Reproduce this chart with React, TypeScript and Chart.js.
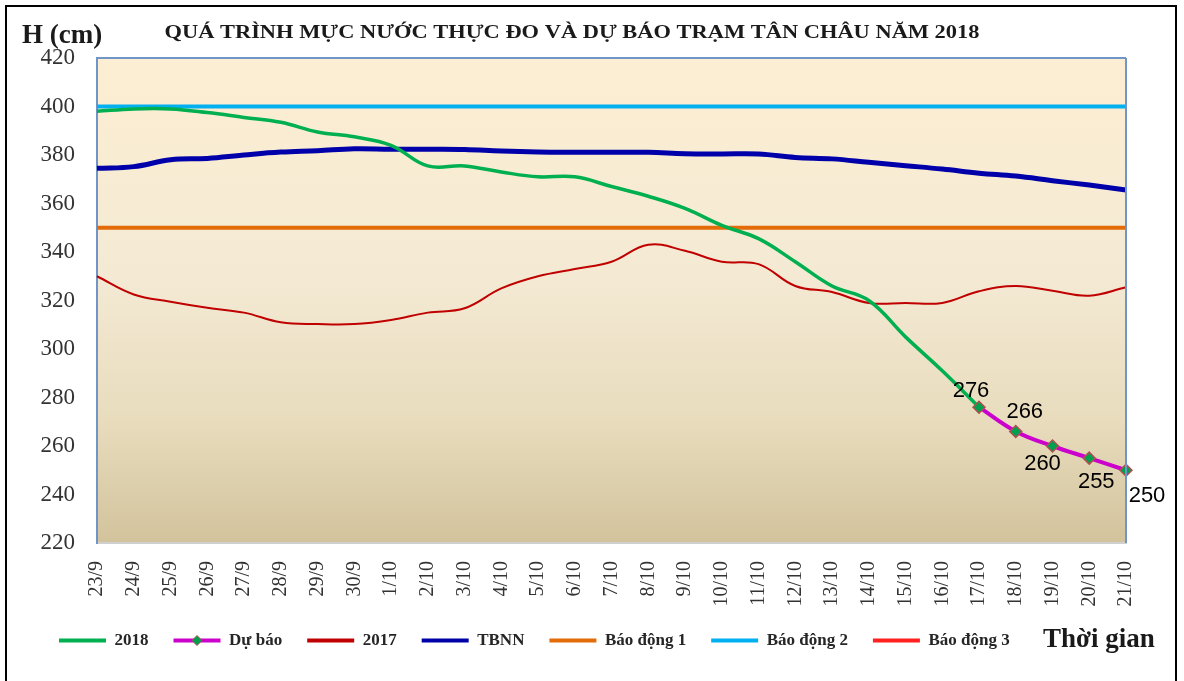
import React, { useEffect, useRef } from "react";
import { Chart, registerables } from "chart.js";

Chart.register(...registerables);

const dates = [
  "23/9", "24/9", "25/9", "26/9", "27/9", "28/9", "29/9", "30/9",
  "1/10", "2/10", "3/10", "4/10", "5/10", "6/10", "7/10", "8/10", "9/10",
  "10/10", "11/10", "12/10", "13/10", "14/10", "15/10", "16/10", "17/10",
  "18/10", "19/10", "20/10", "21/10",
];

const obs2018: (number | null)[] = [
  398, 399, 399, 397.5, 395.5, 393.5, 389.5, 387.5,
  384, 375.5, 375.5, 373, 371, 371, 367, 363, 358,
  351, 345.5, 336, 326, 320, 305, 291, 276,
  null, null, null, null,
];

const forecast: (number | null)[] = [
  null, null, null, null, null, null, null, null,
  null, null, null, null, null, null, null, null, null,
  null, null, null, null, null, null, null, 276,
  266, 260, 255, 250,
];

const obs2017 = [
  330, 322.5, 319.5, 317, 315, 311, 310.3, 310.3,
  312, 315, 316.8, 325, 330, 333, 336, 343, 340.5,
  336, 335, 326, 323.5, 319, 319, 319, 323.8,
  326, 324, 322, 325.5,
];

const tbnn = [
  374.5, 375.2, 378, 378.6, 380, 381.2, 381.8, 382.6,
  382.4, 382.4, 382.3, 381.6, 381.2, 381.1, 381.1, 381.1, 380.5,
  380.4, 380.4, 379, 378.4, 377, 375.6, 374.2, 372.5,
  371.3, 369.4, 367.6, 365.6,
];

const alarm1 = 350;
const alarm2 = 400;
const alarm3 = 450;

const yTicks = [220, 240, 260, 280, 300, 320, 340, 360, 380, 400, 420];

const titleText = "QUÁ TRÌNH MỰC NƯỚC THỰC ĐO VÀ DỰ BÁO TRẠM TÂN CHÂU NĂM 2018";
const yCaption = "H (cm)";
const xCaption = "Thời gian";

const seriesNames = ["2018", "Dự báo", "2017", "TBNN", "Báo động 1", "Báo động 2", "Báo động 3"];
const seriesColors = ["#00B050", "#CC00CC", "#C00000", "#0000AA", "#E36C09", "#00B0F0", "#FF2020"];

const SERIF = "'Liberation Serif', 'Times New Roman', serif";
const SANS = "'Liberation Sans', Arial, sans-serif";

// label offsets relative to the forecast points (style only)
const labelOffsets: [number, number][] = [
  [-8, -16],
  [9, -20],
  [-10, 18],
  [7, 24],
  [21, 26],
];

const framePlugin = {
  id: "frame",
  beforeDraw(chart: any) {
    const { ctx, chartArea } = chart;
    ctx.save();
    ctx.fillStyle = "#ffffff";
    ctx.fillRect(0, 0, chart.width, chart.height);
    const g = ctx.createLinearGradient(0, chartArea.top, 0, chartArea.bottom);
    g.addColorStop(0, "#FCEED2");
    g.addColorStop(0.45, "#F4EAD4");
    g.addColorStop(0.75, "#E8DCBD");
    g.addColorStop(1, "#D2C39C");
    ctx.fillStyle = g;
    ctx.fillRect(chartArea.left, chartArea.top, chartArea.right - chartArea.left, chartArea.bottom - chartArea.top);
    ctx.strokeStyle = "#000000";
    ctx.lineWidth = 2;
    ctx.strokeRect(6, 6, 1170, 720);
    ctx.restore();
  },
  afterDraw(chart: any) {
    const { ctx, chartArea } = chart;
    ctx.save();
    // right and top border of plot
    ctx.strokeStyle = "#7195C8";
    ctx.lineWidth = 2;
    ctx.beginPath();
    ctx.moveTo(chartArea.right, chartArea.top);
    ctx.lineTo(chartArea.right, chartArea.bottom);
    ctx.stroke();
    ctx.beginPath();
    ctx.moveTo(chartArea.left, chartArea.top);
    ctx.lineTo(chartArea.right, chartArea.top);
    ctx.stroke();
    // title (slightly widened like the original)
    ctx.fillStyle = "#1a1a1a";
    ctx.textBaseline = "middle";
    ctx.font = "bold 19px " + SERIF;
    const w = ctx.measureText(titleText).width;
    ctx.save();
    ctx.translate(572, 33);
    ctx.scale(815 / w, 1);
    ctx.textAlign = "center";
    ctx.fillText(titleText, 0, 0);
    ctx.restore();
    // axis captions
    ctx.textAlign = "left";
    ctx.font = "bold 27px " + SERIF;
    ctx.fillText(yCaption, 22, 36);
    ctx.font = "bold 27px " + SERIF;
    ctx.fillText(xCaption, 1043, 640);
    // forecast point labels
    const meta = chart.getDatasetMeta(1);
    ctx.font = "22px " + SANS;
    ctx.fillStyle = "#000000";
    ctx.textAlign = "center";
    let k = 0;
    meta.data.forEach((pt: any, i: number) => {
      const v = chart.data.datasets[1].data[i];
      if (v === null || v === undefined) return;
      const off = labelOffsets[k] || [0, -18];
      ctx.fillText(String(v), pt.x + off[0], pt.y + off[1]);
      k++;
    });
    // diamond on legend swatch of forecast
    const legend = chart.legend;
    if (legend && legend.legendHitBoxes && legend.legendHitBoxes[1]) {
      const hb = legend.legendHitBoxes[1];
      const cx = hb.left + 23.5;
      const cy = hb.top + hb.height / 2;
      ctx.beginPath();
      ctx.moveTo(cx, cy - 5);
      ctx.lineTo(cx + 5, cy);
      ctx.lineTo(cx, cy + 5);
      ctx.lineTo(cx - 5, cy);
      ctx.closePath();
      ctx.fillStyle = "#00A050";
      ctx.fill();
      ctx.strokeStyle = "#B0504F";
      ctx.lineWidth = 1;
      ctx.stroke();
    }
    ctx.restore();
  },
};

export default function App() {
  const ref = useRef<HTMLCanvasElement | null>(null);

  useEffect(() => {
    if (!ref.current) return;
    const chart = new Chart(ref.current, {
      type: "line",
      data: {
        labels: dates,
        datasets: [
          {
            label: seriesNames[0],
            data: obs2018,
            borderColor: seriesColors[0],
            backgroundColor: seriesColors[0],
            borderWidth: 3.5,
            pointRadius: 0,
            tension: 0.4,
            order: 1,
          },
          {
            label: seriesNames[1],
            data: forecast,
            borderColor: seriesColors[1],
            backgroundColor: seriesColors[1],
            borderWidth: 4,
            pointStyle: "rectRot",
            pointRadius: 6,
            pointBackgroundColor: "#00A050",
            pointBorderColor: "#B0504F",
            pointBorderWidth: 1.5,
            tension: 0.4,
            order: 0,
          },
          {
            label: seriesNames[2],
            data: obs2017,
            borderColor: seriesColors[2],
            backgroundColor: seriesColors[2],
            borderWidth: 2,
            pointRadius: 0,
            tension: 0.4,
            order: 3,
          },
          {
            label: seriesNames[3],
            data: tbnn,
            borderColor: seriesColors[3],
            backgroundColor: seriesColors[3],
            borderWidth: 5,
            pointRadius: 0,
            tension: 0.4,
            order: 2,
          },
          {
            label: seriesNames[4],
            data: dates.map(() => alarm1),
            borderColor: seriesColors[4],
            backgroundColor: seriesColors[4],
            borderWidth: 4,
            pointRadius: 0,
            order: 4,
          },
          {
            label: seriesNames[5],
            data: dates.map(() => alarm2),
            borderColor: seriesColors[5],
            backgroundColor: seriesColors[5],
            borderWidth: 4,
            pointRadius: 0,
            order: 5,
          },
          {
            label: seriesNames[6],
            data: dates.map(() => alarm3),
            borderColor: seriesColors[6],
            backgroundColor: seriesColors[6],
            borderWidth: 3,
            pointRadius: 0,
            order: 6,
          },
        ],
      },
      options: {
        responsive: false,
        animation: false,
        devicePixelRatio: 1,
        layout: { padding: { left: 34, right: 58, top: 58, bottom: 22 } },
        plugins: {
          title: { display: false },
          legend: {
            position: "bottom",
            align: "start",
            labels: {
              boxWidth: 47,
              boxHeight: 4,
              padding: 25,
              color: "#262626",
              font: { family: SERIF, size: 17, weight: "bold" },
              generateLabels: (c: any) =>
                c.data.datasets.map((ds: any, i: number) => ({
                  text: ds.label,
                  fillStyle: seriesColors[i],
                  strokeStyle: seriesColors[i],
                  lineWidth: 0,
                  hidden: false,
                  datasetIndex: i,
                  fontColor: "#262626",
                })),
            },
          },
          tooltip: { enabled: false },
        },
        scales: {
          x: {
            offset: false,
            afterFit: (s: any) => {
              s.height = 64;
            },
            grid: { display: false, drawTicks: false },
            border: { display: true, color: "#D0D0D0", width: 2 },
            ticks: {
              autoSkip: false,
              maxRotation: 90,
              minRotation: 90,
              padding: 18,
              color: "#333333",
              font: { family: SERIF, size: 20 },
            },
          },
          y: {
            min: 220,
            max: 420,
            afterFit: (s: any) => {
              s.width = 63;
            },
            afterBuildTicks: (s: any) => {
              s.ticks = yTicks.map((v) => ({ value: v }));
            },
            grid: { display: false, drawTicks: false },
            border: { display: true, color: "#7195C8", width: 2 },
            ticks: {
              padding: 22,
              color: "#333333",
              font: { family: SERIF, size: 23 },
            },
          },
        },
      },
      plugins: [framePlugin],
    } as any);
    return () => chart.destroy();
  }, []);

  return (
    <div style={{ position: "absolute", left: 0, top: 0, width: 1184, height: 681, background: "#fff" }}>
      <canvas ref={ref} width={1184} height={681} style={{ display: "block" }} />
    </div>
  );
}
